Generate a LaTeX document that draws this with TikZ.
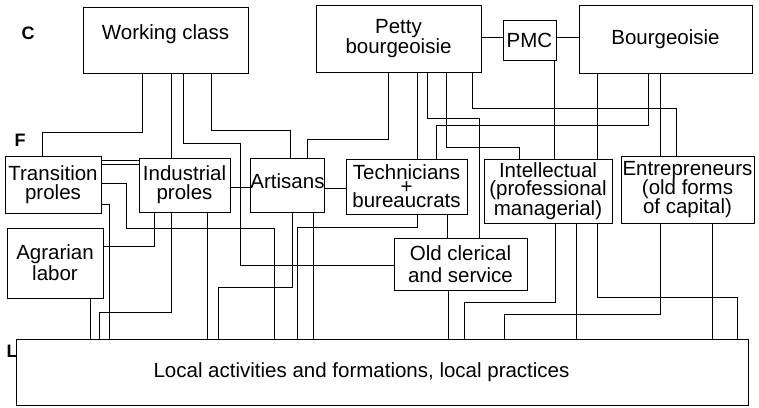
\documentclass[tikz,border=0pt]{standalone}
\usepackage{fontspec}
\setmainfont{Liberation Sans}
\begin{document}
\begin{tikzpicture}[x=1pt,y=-1pt,
  box/.style={draw, line width=0.9pt, inner sep=0pt, align=center, font=\fontsize{20.5}{19}\selectfont},
  wire/.style={line width=0.8pt},
  tag/.style={font=\fontsize{18}{18}\selectfont\bfseries, inner sep=0pt}]
\useasboundingbox (0,0) rectangle (759,407);
% level labels
\node[tag] (lc) at (28,33) {C};
\node[tag] (lf) at (20,140) {F};
\node[tag] (ll) at (12,351) {L};
% class level
\node[box, minimum width=165pt, minimum height=66pt, align=none, text height=14pt, text depth=16pt] (wc) at (165.5,40) {Working class};
\node[box, minimum width=165pt, minimum height=67pt] (pb) at (398.5,38.5) {Petty\\bourgeoisie};
\node[box, minimum width=53pt, minimum height=40pt] (pmc) at (529.5,40) {PMC};
\node[box, minimum width=173pt, minimum height=68pt] (bg) at (665.5,39) {Bourgeoisie};
% fraction level
\node[box, minimum width=96pt, minimum height=57pt] (tp) at (53,184.5) {Transition\\proles};
\node[box, minimum width=91pt, minimum height=54pt] (ip) at (184.5,185) {Industrial\\proles};
\node[box, minimum width=71pt, minimum height=54pt, align=none, text height=14pt, text depth=8pt] (ar) at (287.5,185) {Artisans};
\node[box, minimum width=121pt, minimum height=55pt] (tb) at (406.5,186.5) {Technicians\\[-5pt]+\\[-5pt]bureaucrats};
\node[box, minimum width=128pt, minimum height=64pt] (in) at (548,191) {Intellectual\\[-0.5pt](professional\\[-0.5pt]managerial)};
\node[box, minimum width=133pt, minimum height=67pt] (en) at (687.5,189.5) {Entrepreneurs\\[-1pt](old forms\\[-1pt]of capital)};
\node[box, minimum width=96pt, minimum height=70pt] (ag) at (55,263) {Agrarian\\[1pt]labor};
\node[box, minimum width=133pt, minimum height=52pt] (oc) at (460.5,264) {Old clerical\\[3pt]and service};
% local level
\node[box, minimum width=732pt, minimum height=66pt, align=none] (lo) at (382,372) {\hspace*{-41pt}Local activities and formations, local practices};
% connectors from Working class
\draw[wire] (wc.south -| 142,0) -- (142,132) -- (42,132) -- (tp.north -| 42,0);
\draw[wire] (wc.south -| 171,0) -- (ip.north -| 171,0);
\draw[wire] (wc.south -| 183,0) -- (183,143) -- (240,143) -- (240,265) -- (oc.west |- 0,265);
\draw[wire] (wc.south -| 211,0) -- (211,130) -- (290,130) -- (ar.north -| 290,0);
% connectors from Petty bourgeoisie
\draw[wire] (pb.south -| 388,0) -- (388,139) -- (307,139) -- (ar.north -| 307,0);
\draw[wire] (pb.south -| 417,0) -- (tb.north -| 417,0);
\draw[wire] (pb.south -| 427,0) -- (427,118) -- (479,118) -- (oc.north -| 479,0);
\draw[wire] (pb.south -| 446,0) -- (446,147) -- (519,147) -- (in.north -| 519,0);
\draw[wire] (pb.south -| 472,0) -- (472,108) -- (676,108) -- (en.north -| 676,0);
\draw[wire] (pb.east |- 0,37) -- (pmc.west |- 0,37);
% PMC and Bourgeoisie
\draw[wire] (pmc.east |- 0,37) -- (bg.west |- 0,37);
\draw[wire] (pmc.south -| 554,0) -- (in.north -| 554,0);
\draw[wire] (bg.south -| 597,0) -- (in.north -| 597,0);
\draw[wire] (bg.south -| 648,0) -- (648,125) -- (436,125) -- (tb.north -| 436,0);
\draw[wire] (bg.south -| 660,0) -- (en.north -| 660,0);
% fraction level links
\draw[wire] (tp.east |- 0,160) -- (ip.west |- 0,160);
\draw[wire] (tp.east |- 0,164) -- (ip.west |- 0,164);
\draw[wire] (tp.east |- 0,183) -- (126,183) -- (126,228) -- (274,228) -- (lo.north -| 274,0);
\draw[wire] (tp.east |- 0,204) -- (109,204) -- (lo.north -| 109,0);
\draw[wire] (ag.east |- 0,246) -- (154,246) -- (ip.south -| 154,0);
\draw[wire] (ag.south -| 90,0) -- (lo.north -| 90,0);
\draw[wire] (ip.south -| 171,0) -- (171,312) -- (99,312) -- (lo.north -| 99,0);
\draw[wire] (ip.south -| 207,0) -- (lo.north -| 207,0);
\draw[wire] (ip.east |- 0,187) -- (ar.west |- 0,187);
\draw[wire] (ar.east |- 0,188) -- (tb.west |- 0,188);
\draw[wire] (ar.south -| 292,0) -- (292,287) -- (218,287) -- (lo.north -| 218,0);
\draw[wire] (ar.south -| 313,0) -- (lo.north -| 313,0);
\draw[wire] (tb.south -| 417,0) -- (417,227) -- (297,227) -- (lo.north -| 297,0);
\draw[wire] (tb.south -| 447,0) -- (oc.north -| 447,0);
\draw[wire] (in.south -| 555,0) -- (555,302) -- (464,302) -- (lo.north -| 464,0);
\draw[wire] (in.south -| 576,0) -- (lo.north -| 576,0);
\draw[wire] (in.south -| 597,0) -- (597,297) -- (737,297) -- (lo.north -| 737,0);
\draw[wire] (en.south -| 660,0) -- (660,314) -- (504,314) -- (lo.north -| 504,0);
\draw[wire] (en.south -| 712,0) -- (lo.north -| 712,0);
\draw[wire] (oc.south -| 448,0) -- (lo.north -| 448,0);
\end{tikzpicture}
\end{document}
